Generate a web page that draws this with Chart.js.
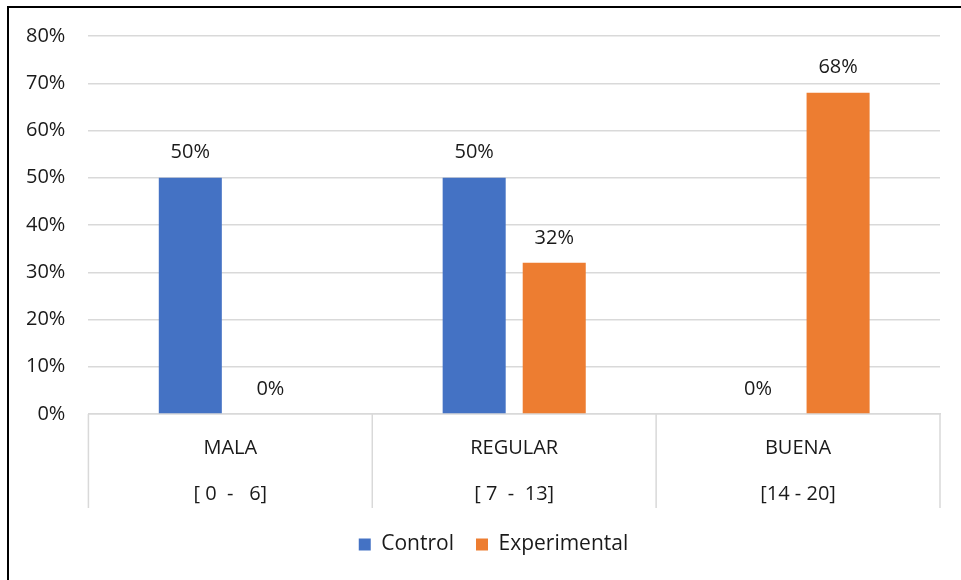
<!DOCTYPE html>
<html>
<head>
<meta charset="utf-8">
<script src="https://cdn.jsdelivr.net/npm/chart.js@4/dist/chart.umd.min.js"></script>
<style>
  body { margin: 0; background: #fff; overflow: hidden; }
  #wrap { position: relative; width: 961px; height: 580px; }
  #frame { position: absolute; left: 7px; top: 6px; width: 1000px; height: 600px; border: 2px solid #000; }
  canvas { position: absolute; left: 0; top: 0; }
</style>
</head>
<body>
<div id="wrap">
  <div id="frame"></div>
  <canvas id="chart" width="961" height="580"></canvas>
</div>
<script>
const categories = [['MALA', '[ 0  -   6]'], ['REGULAR', '[ 7  -  13]'], ['BUENA', '[14 - 20]']];
const controlValues = [50, 50, 0];
const experimentalValues = [0, 32, 68];
const yTicks = [0, 10, 20, 30, 40, 50, 60, 70, 80];

const fontFamily = '"Open Sans", "Noto Sans", sans-serif';
const textColor = '#1a1a1a';
const gridColor = '#d9d9d9';

// draws the value on top of every bar
const valueLabels = {
    id: 'valueLabels',
    afterDatasetsDraw(chart) {
        const ctx = chart.ctx;
        ctx.save();
        ctx.font = '20px ' + fontFamily;
        ctx.fillStyle = textColor;
        ctx.textAlign = 'center';
        ctx.textBaseline = 'middle';
        chart.data.datasets.forEach((ds, i) => {
            chart.getDatasetMeta(i).data.forEach((bar, j) => {
                ctx.fillText(ds.data[j] + '%', bar.x, bar.y - 25);
            });
        });
        ctx.restore();
    }
};

// vertical separators between the category labels, below the plot
const categoryDividers = {
    id: 'categoryDividers',
    afterDraw(chart) {
        const x = chart.scales.x;
        const ctx = chart.ctx;
        const half = (x.getPixelForValue(1) - x.getPixelForValue(0)) / 2;
        ctx.save();
        ctx.strokeStyle = gridColor;
        ctx.lineWidth = 1.5;
        ctx.beginPath();
        for (let i = 0; i <= categories.length; i++) {
            const px = x.getPixelForValue(0) - half + i * half * 2;
            ctx.moveTo(px, x.top);
            ctx.lineTo(px, x.top + 94);
        }
        ctx.stroke();
        ctx.restore();
    }
};

// nudge the legend a little to the right, as in the original
const legendShift = {
    id: 'legendShift',
    afterLayout(chart) {
        chart.legend.left += 22;
        chart.legend.right += 22;
    }
};

new Chart(document.getElementById('chart').getContext('2d'), {
    type: 'bar',
    data: {
        labels: categories,
        datasets: [
            { label: 'Control', data: controlValues, backgroundColor: '#4472C4' },
            { label: 'Experimental', data: experimentalValues, backgroundColor: '#ED7D31' }
        ]
    },
    options: {
        responsive: false,
        animation: false,
        categoryPercentage: 0.564,
        barPercentage: 0.7875,
        layout: { padding: { left: 3, right: 21, top: 36, bottom: 15 } },
        plugins: {
            legend: {
                position: 'bottom',
                labels: {
                    boxWidth: 12,
                    boxHeight: 12,
                    padding: 22,
                    color: textColor,
                    font: { family: fontFamily, size: 21 }
                }
            },
            tooltip: { enabled: false }
        },
        scales: {
            x: {
                offset: true,
                grid: { display: false },
                border: { color: gridColor, width: 1.5 },
                afterFit: s => { s.height -= 8; },
                ticks: {
                    color: textColor,
                    padding: 3,
                    font: { family: fontFamily, size: 20, lineHeight: 2.3 }
                }
            },
            y: {
                min: 0,
                max: 80,
                afterBuildTicks: axis => { axis.ticks = yTicks.map(v => ({ value: v })); },
                grid: { color: gridColor, lineWidth: 1.5, drawTicks: false },
                border: { display: false },
                ticks: {
                    color: textColor,
                    padding: 23,
                    font: { family: fontFamily, size: 20 },
                    callback: v => v + '%'
                }
            }
        }
    },
    plugins: [valueLabels, categoryDividers, legendShift]
});
</script>
</body>
</html>
